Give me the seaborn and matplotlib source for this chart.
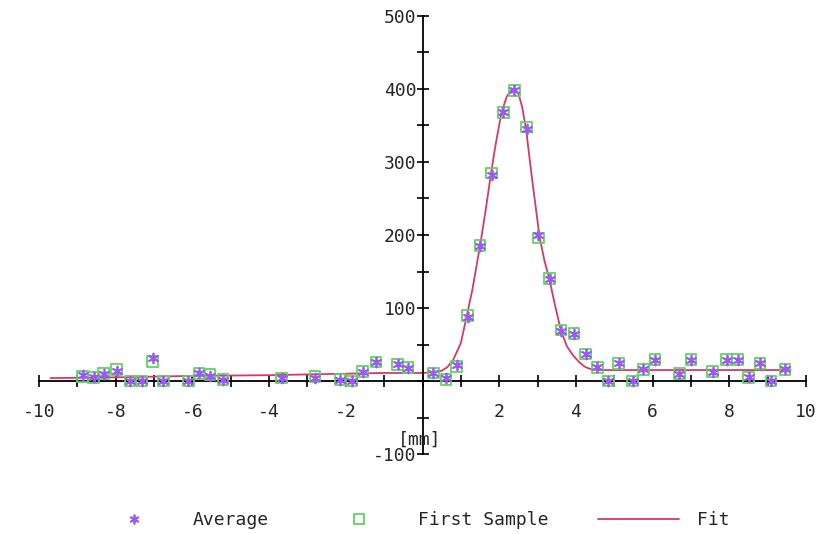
import matplotlib
matplotlib.use("Agg")
import matplotlib.pyplot as plt
import seaborn as sns
import pandas as pd
from matplotlib.ticker import MultipleLocator, FixedLocator
from matplotlib.lines import Line2D

# ---- data ----
x_pos = [-8.86, -8.57, -8.31, -7.97, -7.63, -7.32, -7.04, -6.76, -6.11, -5.83,
         -5.54, -5.20, -3.67, -2.80, -2.15, -1.85, -1.56, -1.21, -0.65, -0.38,
         0.28, 0.61, 0.89, 1.18, 1.50, 1.80, 2.11, 2.39, 2.72, 3.02,
         3.32, 3.61, 3.95, 4.26, 4.56, 4.85, 5.12, 5.48, 5.76, 6.06,
         6.70, 7.00, 7.57, 7.93, 8.22, 8.51, 8.80, 9.09, 9.45]
average = [8, 5, 10, 14, 0, 0, 32, 0, 0, 11,
           7, 2, 4, 4, 2, 0, 13, 26, 23, 18,
           11, 4, 22, 88, 185, 282, 368, 398, 345, 200,
           140, 69, 65, 37, 19, 0, 24, 0, 16, 29,
           10, 29, 13, 29, 29, 5, 24, 0, 16]
first_sample = [6, 5, 10, 16, 0, 0, 27, 0, 0, 10,
                9, 2, 4, 6, 2, 0, 13, 26, 23, 18,
                11, 2, 20, 90, 186, 285, 368, 398, 348, 196,
                140, 70, 65, 37, 19, 0, 24, 0, 16, 29,
                10, 29, 13, 29, 29, 5, 24, 0, 16]

fit_x = [-9.7, -8.0, -6.0, -4.0, -2.0, -1.0, 0.0, 0.3, 0.5, 0.65,
         0.8, 1.0, 1.15, 1.3, 1.5, 1.65, 1.78, 1.9, 2.06, 2.2,
         2.3, 2.4, 2.5, 2.6, 2.7, 2.85, 3.05, 3.18, 3.31, 3.45,
         3.61, 3.77, 3.93, 4.1, 4.25, 4.4, 4.6, 6.0, 8.0, 9.6]
fit_y = [4, 5, 7, 8, 10, 11, 11, 12, 14, 19,
         29, 52, 88, 125, 185, 235, 282, 322, 368, 390,
         397, 399, 394, 375, 345, 280, 198, 165, 139, 105,
         69, 47, 35, 25, 19, 16, 15, 15, 15, 15]

x_major = [-10, -8, -6, -4, -2, 2, 4, 6, 8, 10]
y_major = [-100, 100, 200, 300, 400, 500]

purple = "#9a5cf0"
green = "#5fd35f"
red = "#d23a6a"

sns.set_style("white")
plt.rcParams['font.family'] = ['DejaVu Sans Mono', 'DejaVu Sans']

fig = plt.figure(figsize=(8.27, 5.34), dpi=100)
ax = fig.add_axes([39 / 827, 1 - 454 / 534, (806 - 39) / 827, (454 - 16) / 534])

pts = pd.DataFrame({"x": x_pos, "avg": average, "first": first_sample})
fit = pd.DataFrame({"x": fit_x, "y": fit_y})

sns.lineplot(data=fit, x="x", y="y", ax=ax, color=red, linewidth=1.3, zorder=2)
sns.scatterplot(data=pts, x="x", y="first", ax=ax, marker="s", s=60,
                facecolor="none", edgecolor=green, linewidth=1.3, zorder=3)
sns.scatterplot(data=pts, x="x", y="avg", ax=ax, marker=(6, 2, 0), s=50,
                color=purple, edgecolor=purple, linewidth=1.3, zorder=4)

ax.set_xlim(-10, 10)
ax.set_ylim(-100, 500)
ax.set_xlabel("")
ax.set_ylabel("")

for s in ["top", "right"]:
    ax.spines[s].set_visible(False)
ax.spines["left"].set_position(("data", 0))
ax.spines["bottom"].set_position(("data", 0))
ax.spines["left"].set_linewidth(1.3)
ax.spines["bottom"].set_linewidth(1.3)
ax.spines["left"].set_color("black")
ax.spines["bottom"].set_color("black")

ax.xaxis.set_major_locator(FixedLocator(x_major))
ax.yaxis.set_major_locator(FixedLocator(y_major))
ax.xaxis.set_minor_locator(MultipleLocator(1))
ax.yaxis.set_minor_locator(MultipleLocator(50))
ax.set_xticklabels([str(v) for v in x_major])
ax.set_yticklabels([str(v) for v in y_major])
ax.tick_params(which="both", direction="inout", length=9, width=1.2,
               color="black", labelsize=13, bottom=True, left=True)
ax.tick_params(axis="x", pad=11)
ax.tick_params(axis="y", pad=0)

ax.text(-0.08, -81, "[mm]", ha="center", va="center", fontsize=13)

handles = [
    Line2D([], [], linestyle="none", marker=(6, 2, 0), markersize=7,
           color=purple, markeredgecolor=purple, markeredgewidth=1.3),
    Line2D([], [], linestyle="none", marker="s", markersize=7,
           markerfacecolor="none", markeredgecolor=green, markeredgewidth=1.3),
    Line2D([], [], color=red, linewidth=1.3),
]
fig.legend(handles, ["Average", "First Sample", "Fit"], loc="center",
           bbox_to_anchor=(0.498, 1 - 520 / 534), ncol=3, frameon=False,
           fontsize=13, handlelength=4.5, handletextpad=1.0,
           columnspacing=2.75)

fig.savefig("out.png", dpi=100)
